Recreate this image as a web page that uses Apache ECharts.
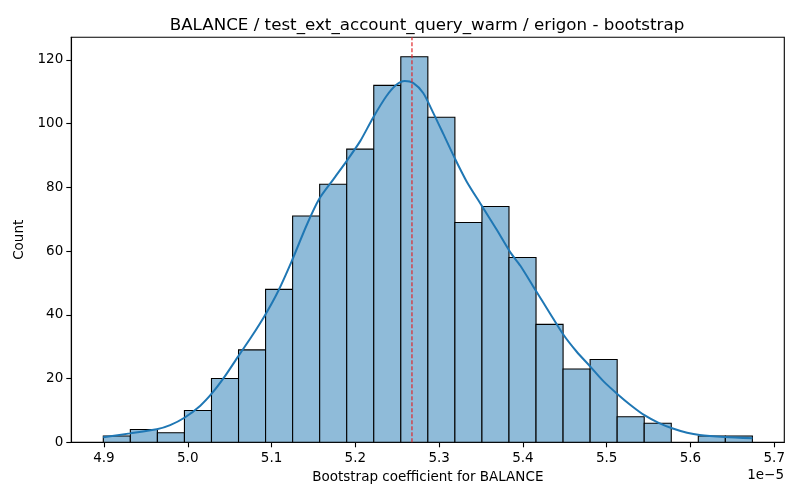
<!DOCTYPE html>
<html>
<head>
<meta charset="utf-8">
<script src="https://cdn.jsdelivr.net/npm/echarts@6/dist/echarts.min.js"></script>
<style>
  html, body { margin: 0; padding: 0; background: #fff; }
  #main { width: 800px; height: 500px; }
</style>
</head>
<body>
<div id="main"></div>
<script>
// histogram bins (x in units of 1e-5)
var binStart = 4.8992;
var binWidth = 0.03228;
var counts = [2, 4, 3, 10, 20, 29, 48, 71, 81, 92, 112, 121, 102, 69, 74, 58, 37, 23, 26, 8, 6, 0, 2, 2];

// kde curve
var kdeX = [4.899, 4.931, 4.963, 4.979, 4.996, 5.015, 5.029, 5.044, 5.060, 5.076, 5.092, 5.108, 5.124,
            5.142, 5.157, 5.174, 5.190, 5.206, 5.221, 5.237, 5.249, 5.259, 5.269, 5.281, 5.293, 5.305,
            5.319, 5.333, 5.351, 5.369, 5.385, 5.397, 5.414, 5.432, 5.448, 5.464, 5.481, 5.496, 5.513,
            5.528, 5.545, 5.562, 5.578, 5.596, 5.611, 5.641, 5.674];
var kdeY = [1.6, 2.8, 4.1, 5.4, 7.7, 11.5, 15.4, 20.6, 26.9, 33.1, 39.8, 47.5, 56.8,
            68.2, 76.4, 82.6, 88.4, 94.6, 101.8, 108.6, 112.2, 113.4, 112.8, 109.6, 103.4, 96.8,
            89.0, 81.8, 74.2, 66.6, 59.6, 55.4, 48.2, 40.6, 33.9, 28.5, 23.6, 19.2, 15.1,
            11.8, 8.5, 6.1, 4.4, 3.0, 2.3, 1.7, 1.3];

// dashed marker
var markX = 5.2676;

// tick labels
var xTicks = [4.9, 5.0, 5.1, 5.2, 5.3, 5.4, 5.5, 5.6, 5.7];
var yTicks = [0, 20, 40, 60, 80, 100, 120];

var FONT = 'DejaVu Sans';
var yMax = 127.1;

var barData = [];
for (var i = 0; i < counts.length; i++) {
    barData.push([binStart + i * binWidth, binStart + (i + 1) * binWidth, counts[i]]);
}
var kdeData = [];
for (var i = 0; i < kdeX.length; i++) {
    kdeData.push([kdeX[i], kdeY[i]]);
}

function renderBar(params, api) {
    var c = api.value(2);
    if (c <= 0) return null;
    var p0 = api.coord([api.value(0), c]);
    var p1 = api.coord([api.value(1), 0]);
    return {
        type: 'rect',
        shape: { x: p0[0], y: p0[1], width: p1[0] - p0[0], height: p1[1] - p0[1] },
        style: { fill: '#8fbbd9', stroke: '#000', lineWidth: 1.1 }
    };
}

var chart = echarts.init(document.getElementById('main'), null, { renderer: 'canvas' });
var option = {
    animation: false,
    backgroundColor: '#fff',
    title: {
        text: 'BALANCE / test_ext_account_query_warm / erigon - bootstrap',
        left: 422,
        top: 12,
        textAlign: 'center',
        textStyle: { fontFamily: FONT, fontSize: 16.7, fontWeight: 'normal', color: '#000' }
    },
    grid: {
        left: 71.3, right: 15.7, top: 37.3, bottom: 57.7,
        show: true, borderColor: '#000', borderWidth: 1.1, backgroundColor: 'transparent'
    },
    xAxis: {
        type: 'value',
        min: 4.861,
        max: 5.712,
        name: 'Bootstrap coefficient for BALANCE',
        nameLocation: 'middle',
        nameGap: 28,
        nameTextStyle: { fontFamily: FONT, fontSize: 13.5, color: '#000' },
        axisLine: { show: true, onZero: false, lineStyle: { color: '#000', width: 1.1 } },
        axisTick: { show: true, length: 5, customValues: xTicks, lineStyle: { color: '#000', width: 1.1 } },
        axisLabel: {
            customValues: xTicks, margin: 9,
            fontFamily: FONT, fontSize: 13.5, color: '#000',
            formatter: function (v) { return v.toFixed(1); }
        },
        splitLine: { show: false }
    },
    yAxis: {
        type: 'value',
        min: 0,
        max: yMax,
        name: 'Count',
        nameLocation: 'middle',
        nameGap: 41,
        nameTextStyle: { fontFamily: FONT, fontSize: 13.5, color: '#000' },
        axisLine: { show: true, lineStyle: { color: '#000', width: 1.1 } },
        axisTick: { show: true, length: 5, customValues: yTicks, lineStyle: { color: '#000', width: 1.1 } },
        axisLabel: { customValues: yTicks, margin: 8, fontFamily: FONT, fontSize: 13.5, color: '#000' },
        splitLine: { show: false }
    },
    graphic: [{
        type: 'text',
        right: 16,
        top: 468,
        style: { text: '1e\u22125', font: '13.5px "DejaVu Sans"', fill: '#000' }
    }],
    series: [{
        type: 'custom',
        renderItem: renderBar,
        encode: { x: [0, 1], y: 2 },
        data: barData,
        z: 2
    }, {
        type: 'line',
        data: kdeData,
        smooth: 0.25,
        showSymbol: false,
        color: '#1f77b4',
        lineStyle: { color: '#1f77b4', width: 2 },
        z: 3
    }, {
        // vertical dashed marker
        type: 'line',
        data: [[markX, 0], [markX, yMax]],
        showSymbol: false,
        color: '#e0262a',
        itemStyle: { color: '#e0262a' },
        lineStyle: { color: '#e0262a', type: [4, 2], width: 1.2, opacity: 1 },
        z: 4
    }]
};
chart.setOption(option);
</script>
</body>
</html>
